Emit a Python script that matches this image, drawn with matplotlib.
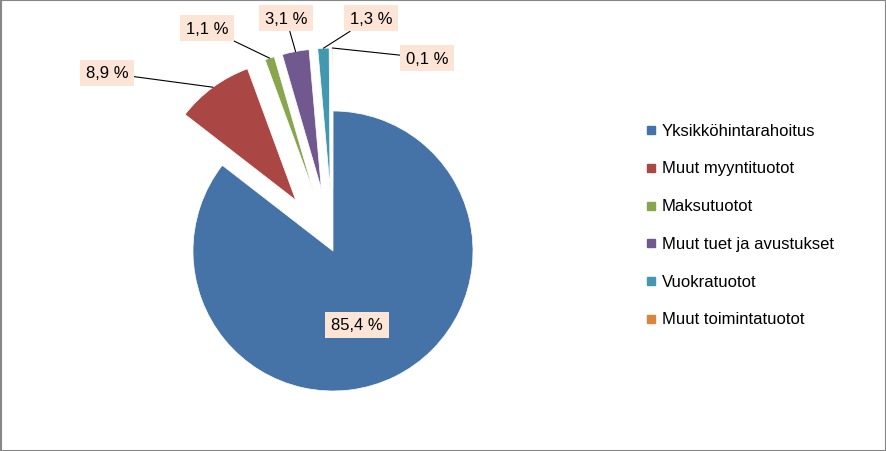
import numpy as np
import matplotlib
matplotlib.use("Agg")
import matplotlib.pyplot as plt
from matplotlib.patches import Rectangle

categories = ["Yksikköhintarahoitus", "Muut myyntituotot", "Maksutuotot",
              "Muut tuet ja avustukset", "Vuokratuotot", "Muut toimintatuotot"]
values = [85.4, 8.9, 1.1, 3.1, 1.3, 0.1]
labels = ["85,4 %", "8,9 %", "1,1 %", "3,1 %", "1,3 %", "0,1 %"]
colors = ["#4572A7", "#AA4643", "#89A54E", "#71588F", "#4198AF", "#DB843D"]

plt.rcParams["font.family"] = "Liberation Sans"
fig = plt.figure(figsize=(8.86, 4.52), dpi=100)
ax = fig.add_axes([0, 0, 1, 1])
ax.set_xlim(0, 886)
ax.set_ylim(0, 452)
ax.set_aspect("equal")
ax.axis("off")

R = 140
cx, cy = 333, 452 - 252
off = 63  # explode offset in pixels (pie doesn't scale by radius)
wedges, _ = ax.pie(values, colors=colors, startangle=90, counterclock=False,
                   explode=[0, off, off, off, off, off], radius=R,
                   center=(cx, cy), wedgeprops=dict(linewidth=0.5, edgecolor="white"))
ax.set_xlim(0, 886)
ax.set_ylim(0, 452)

box = dict(boxstyle="square,pad=0.35", fc="#FCE4D6", ec="none")
# label positions (pixels from top-left)
label_pos = [(357, 326), (107, 74), (207, 29), (286, 19), (371, 19), (427, 59)]
for i, (w, lab) in enumerate(zip(wedges, labels)):
    lx, ly = label_pos[i][0], 452 - label_pos[i][1]
    if i == 0:
        ax.text(lx, ly, lab, ha="center", va="center", fontsize=12, bbox=box)
        continue
    ang = np.deg2rad((w.theta1 + w.theta2) / 2)
    px = w.center[0] + w.r * np.cos(ang)
    py = w.center[1] + w.r * np.sin(ang)
    ax.annotate(lab, xy=(px, py), xytext=(lx, ly), ha="center", va="center",
                fontsize=12, bbox=box,
                arrowprops=dict(arrowstyle="-", color="black", lw=0.8,
                                shrinkA=0, shrinkB=0))

# legend
for i, (c, name) in enumerate(zip(colors, categories)):
    y = 452 - (131 + i * 37.8)
    ax.add_patch(Rectangle((647, y - 4), 8, 8, color=c))
    ax.text(662, y, name, va="center", ha="left", fontsize=12)

fig.patches.append(Rectangle((0.5, 0.5), 885, 451, transform=None, fill=False,
                             ec="#868686", lw=1.5))
fig.savefig("out.png", dpi=100)
